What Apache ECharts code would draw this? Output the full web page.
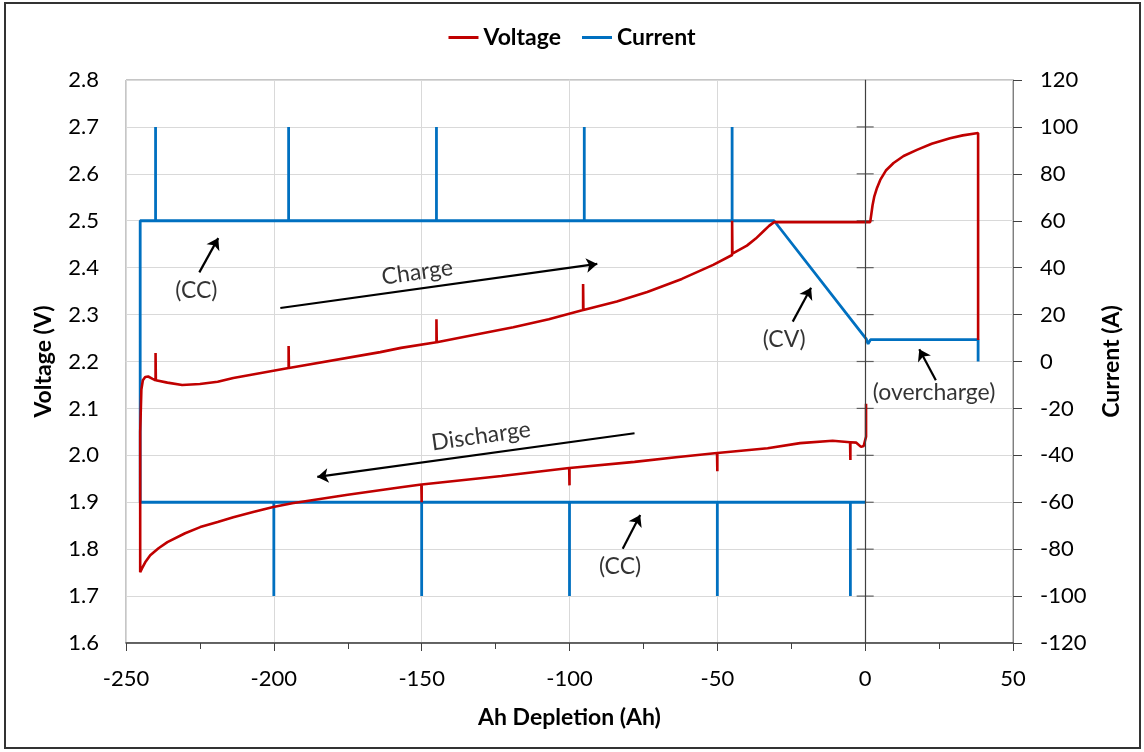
<!DOCTYPE html>
<html lang="en" style="height: 100%">
  <head>
    <meta charset="utf-8" />
  </head>
  <body style="height: 100%; margin: 0">
    <div id="container" style="width: 1144px; height: 752px"></div>

    <script
      type="text/javascript"
      src="https://fastly.jsdelivr.net/npm/echarts@6.0.0/dist/echarts.min.js"
    ></script>
    <script type="text/javascript">
      // voltage, discharge part (x = Ah depletion, going left from 0)
      const dischargeVoltage = [
        [0.3, 2.11], [0.3, 2.04], [-0.5, 2.02], [-1.4, 2.018], [-3, 2.027],
        [-5, 2.028], [-5, 1.99], [-5.1, 2.028], [-11, 2.031], [-22, 2.026],
        [-33, 2.015], [-50, 2.005], [-50, 1.966], [-50.1, 2.005], [-64, 1.996],
        [-78, 1.986], [-100, 1.973], [-100, 1.936], [-100.1, 1.973], [-123, 1.956],
        [-150, 1.938], [-150, 1.9], [-150.1, 1.938], [-157, 1.932], [-175, 1.916],
        [-193.8, 1.898], [-200.2, 1.89], [-207, 1.879], [-213.7, 1.868],
        [-219, 1.858], [-224.9, 1.847], [-230, 1.834], [-236, 1.815],
        [-239, 1.802], [-241.8, 1.787], [-243.5, 1.772], [-244.5, 1.76], [-245.2, 1.751]
      ];
      // voltage, charge + overcharge part
      const chargeVoltage = [
        [-245.2, 2.05], [-244.8, 2.14], [-244.3, 2.16], [-243.5, 2.167], [-242.5, 2.168],
        [-241, 2.163], [-240, 2.16], [-240, 2.218], [-239.9, 2.16], [-236, 2.155],
        [-231, 2.15], [-225, 2.152], [-219, 2.157], [-213.7, 2.165], [-195, 2.186],
        [-195, 2.233], [-194.9, 2.186], [-164, 2.22], [-157, 2.229], [-145, 2.241],
        [-145, 2.29], [-144.9, 2.241], [-132, 2.257], [-119, 2.273], [-107, 2.29],
        [-95.4, 2.31], [-95.4, 2.365], [-95.3, 2.31], [-84, 2.328], [-73.7, 2.348],
        [-62, 2.376], [-51.4, 2.406], [-45, 2.427], [-45, 2.5], [-44.9, 2.43],
        [-40, 2.447], [-37, 2.462], [-34.5, 2.477], [-32.5, 2.489], [-30.8, 2.497],
        [1.7, 2.497], [2.1, 2.515], [2.5, 2.533], [3.1, 2.552], [4, 2.57],
        [5.1, 2.587], [7, 2.607], [9.6, 2.623], [13, 2.638], [17.5, 2.651],
        [22.5, 2.664], [28.7, 2.676], [33, 2.682], [38.2, 2.687], [38.2, 2.246]
      ];
      const dischargeCurrent = [
        [0, -60], [-5, -60], [-5, -100], [-5, -60], [-50, -60], [-50, -100],
        [-50, -60], [-100, -60], [-100, -100], [-100, -60], [-150, -60],
        [-150, -100], [-150, -60], [-200, -60], [-200, -100], [-200, -60],
        [-245.2, -60]
      ];
      const chargeCurrent = [
        [-245.2, 60], [-240, 60], [-240, 100], [-240, 60], [-195, 60], [-195, 100],
        [-195, 60], [-145, 60], [-145, 100], [-145, 60], [-95, 60], [-95, 100],
        [-95, 60], [-45, 60], [-45, 100], [-45, 60], [-30.8, 60], [0.4, 9.5],
        [1.0, 7.5], [1.8, 9.3], [38.2, 9.3], [38.2, 0]
      ];

      const voltageTicks = [1.7, 1.8, 1.9, 2.0, 2.1, 2.2, 2.3, 2.4, 2.5, 2.6, 2.7];

      // annotation texts: [x, V, text, rotate]
      const notes = [
        [-226.2, 2.352, "(CC)", 0],
        [-151.5, 2.39, "Charge", 8],
        [-27.4, 2.246, "(CV)", 0],
        [23.3, 2.133, "(overcharge)", 0],
        [-129.9, 2.041, "Discharge", 8],
        [-82.9, 1.762, "(CC)", 0]
      ];
      // arrows: [tail, head]
      const arrows = [
        [[-225.2, 2.39], [-218.8, 2.463]],
        [[-197.8, 2.314], [-90.6, 2.408]],
        [[-24.5, 2.285], [-18.3, 2.357]],
        [[23.9, 2.16], [18.3, 2.226]],
        [[-78, 2.047], [-185.3, 1.954]],
        [[-82, 1.801], [-76.1, 1.873]]
      ];

      const font = "Lato";
      const red = "#c00000";
      const blue = "#0070c0";

      var dom = document.getElementById("container");
      var myChart = echarts.init(dom, null, { renderer: "canvas" });

      var option = {
        animation: false,
        backgroundColor: "#fff",
        textStyle: { fontFamily: font },
        graphic: [
          {
            type: "rect",
            shape: { x: 5, y: 3, width: 1135, height: 745 },
            style: { fill: "none", stroke: "#333", lineWidth: 2 },
            z: 100,
          },
        ],
        legend: {
          top: 21,
          left: "center",
          data: ["Voltage", "Current"],
          icon: "rect",
          itemWidth: 30,
          itemHeight: 3,
          itemGap: 21,
          textStyle: { fontSize: 23, fontWeight: "bold", color: "#000", fontFamily: font },
        },
        grid: {
          left: 126,
          right: 131,
          top: 80,
          bottom: 109,
          show: true,
          borderColor: "#8c8c8c",
          borderWidth: 1,
        },
        xAxis: {
          type: "value",
          min: -250,
          max: 50,
          interval: 50,
          name: "Ah Depletion (Ah)",
          nameLocation: "middle",
          nameGap: 63,
          nameTextStyle: { fontSize: 23, fontWeight: "bold", color: "#000", fontFamily: font },
          axisLine: { onZero: false, lineStyle: { color: "#404040", width: 1.5 } },
          axisTick: { show: true, inside: false, length: 8, lineStyle: { color: "#404040" } },
          minorTick: { show: true, splitNumber: 2, length: 6, lineStyle: { color: "#404040" } },
          splitLine: { show: true, lineStyle: { color: "#d9d9d9" } },
          axisLabel: { fontSize: 22, color: "#000", margin: 25, fontFamily: font },
        },
        yAxis: [
          {
            type: "value",
            min: 1.6,
            max: 2.8,
            interval: 0.1,
            name: "Voltage (V)",
            nameLocation: "middle",
            nameRotate: 90,
            nameGap: 71,
            nameTextStyle: { fontSize: 23, fontWeight: "bold", color: "#000", fontFamily: font },
            axisLine: { show: true, lineStyle: { color: "#7f7f7f" } },
            axisTick: { show: false },
            splitLine: { show: true, lineStyle: { color: "#d9d9d9" } },
            axisLabel: {
              fontSize: 22,
              color: "#000",
              margin: 27,
              fontFamily: font,
              formatter: (v) => v.toFixed(1),
            },
          },
          {
            type: "value",
            min: -120,
            max: 120,
            interval: 20,
            position: "right",
            name: "Current (A)",
            nameLocation: "middle",
            nameRotate: 90,
            nameGap: 87,
            nameTextStyle: { fontSize: 23, fontWeight: "bold", color: "#000", fontFamily: font },
            axisLine: { show: true, lineStyle: { color: "#7f7f7f" } },
            axisTick: { show: true, inside: false, length: 9, lineStyle: { color: "#404040" } },
            splitLine: { show: false },
            axisLabel: { fontSize: 22, color: "#000", margin: 27, fontFamily: font },
          },
        ],
        series: [
          {
            name: "zero ticks",
            type: "scatter",
            yAxisIndex: 0,
            symbol: "rect",
            symbolSize: [17, 1.2],
            itemStyle: { color: "#404040" },
            data: voltageTicks.map((v) => [0, v]),
            silent: true,
            z: 1,
            markLine: {
              silent: true,
              symbol: "none",
              label: { show: false },
              lineStyle: { color: "#404040", type: "solid", width: 1.2 },
              data: [{ xAxis: 0 }],
            },
          },
          {
            name: "Current",
            type: "line",
            yAxisIndex: 1,
            showSymbol: false,
            symbol: "none",
            lineStyle: { color: blue, width: 2.8 },
            itemStyle: { color: blue },
            data: dischargeCurrent.concat(chargeCurrent),
            z: 2,
          },
          {
            name: "Voltage",
            type: "line",
            yAxisIndex: 0,
            showSymbol: false,
            symbol: "none",
            lineStyle: { color: red, width: 2.6 },
            itemStyle: { color: red },
            data: dischargeVoltage.concat(chargeVoltage),
            z: 3,
          },
          {
            name: "arrows",
            type: "lines",
            coordinateSystem: "cartesian2d",
            xAxisIndex: 0,
            yAxisIndex: 0,
            symbol: ["none", "arrow"],
            symbolSize: 11,
            lineStyle: { color: "#000", width: 2.2, opacity: 1 },
            data: arrows.map((a) => ({ coords: a })),
            z: 4,
          },
          {
            name: "notes",
            type: "scatter",
            yAxisIndex: 0,
            symbolSize: 0,
            itemStyle: { color: "#000" },
            silent: true,
            data: notes.map((n) => ({
              value: [n[0], n[1]],
              label: {
                show: true,
                position: "inside",
                formatter: n[2],
                rotate: n[3],
                fontSize: 23,
                color: "#000",
                fontFamily: font,
              },
            })),
            z: 5,
          },
        ],
      };

      if (option && typeof option === "object") {
        myChart.setOption(option);
      }

      window.addEventListener("resize", myChart.resize);
    </script>
  </body>
</html>
